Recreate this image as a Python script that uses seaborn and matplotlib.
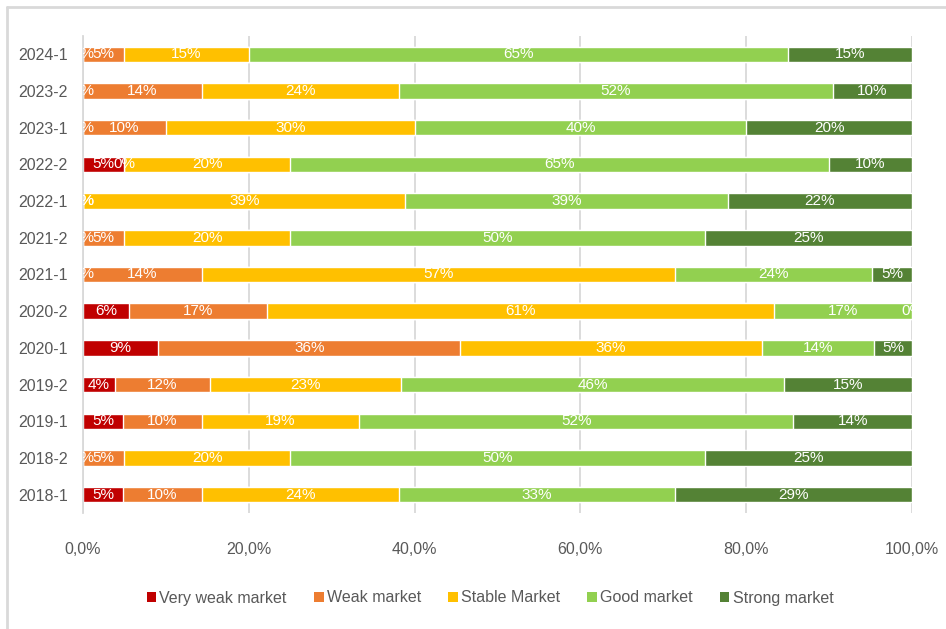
import numpy as np
import pandas as pd
import matplotlib.pyplot as plt
import seaborn as sns
from matplotlib.patches import Patch
from matplotlib.lines import Line2D
from matplotlib.ticker import FuncFormatter

# --- Data: share of answers per survey period (in %) ---
periods = ["2024-1", "2023-2", "2023-1", "2022-2", "2022-1", "2021-2", "2021-1",
           "2020-2", "2020-1", "2019-2", "2019-1", "2018-2", "2018-1"]
very_weak = [0, 0, 0, 5, 0, 0, 0, 5.5, 9.1, 3.8, 4.8, 0, 4.8]
weak = [5, 14.3, 10, 0, 0, 5, 14.3, 16.7, 36.4, 11.5, 9.5, 5, 9.5]
stable = [15, 23.8, 30, 20, 38.9, 20, 57.1, 61.1, 36.4, 23.1, 19.0, 20, 23.8]
good = [65, 52.4, 40, 65, 38.9, 50, 23.8, 16.7, 13.5, 46.2, 52.4, 50, 33.3]
strong = [15, 9.5, 20, 10, 22.2, 25, 4.8, 0, 4.6, 15.4, 14.3, 25, 28.6]

series_names = ["Very weak market", "Weak market", "Stable Market", "Good market", "Strong market"]
colors = ["#C00000", "#ED7D31", "#FFC000", "#92D050", "#548235"]

# --- Style ---
sns.set_style("white")
plt.rcParams['font.family'] = ['Liberation Sans', 'DejaVu Sans']
grey = "#595959"

df = pd.DataFrame({"Period": periods})
values = [very_weak, weak, stable, good, strong]
for name, vals in zip(series_names, values):
    df[name] = vals

# cumulative sums, drawn from the longest to shortest so the stack shows
cum = df[series_names].cumsum(axis=1)
for name in series_names:
    df["cum " + name] = cum[name]

fig = plt.figure(figsize=(9.46, 6.29), dpi=100)
ax = fig.add_axes([83 / 946, 1 - 513 / 629, (912 - 83) / 946, (513 - 36) / 629])

for name, col in reversed(list(zip(series_names, colors))):
    sns.barplot(data=df, x="cum " + name, y="Period", order=periods, color=col,
                saturation=1, width=0.42, errorbar=None, orient="h", ax=ax)

# --- Segment labels ---
for i, p in enumerate(periods):
    left = 0
    for name in series_names:
        v = df.loc[i, name]
        ax.text(left + v / 2, i, f"{v:.0f}%", ha="center", va="center",
                color="white", fontsize=11, clip_on=True)
        left += v

# --- Axes cosmetics ---
ax.set_xlim(0, 100)
ax.set_ylim(len(periods) - 0.5, -0.5)
ax.set_xticks(np.arange(0, 101, 20))
ax.xaxis.set_major_formatter(FuncFormatter(lambda x, _: f"{x:.1f}%".replace(".", ",")))
ax.xaxis.grid(True, color="#D9D9D9", lw=1.3)
ax.set_axisbelow(True)
ax.set_xlabel("")
ax.set_ylabel("")
for s in ["top", "right", "bottom"]:
    ax.spines[s].set_visible(False)
ax.spines["left"].set_color("#D9D9D9")
ax.spines["left"].set_linewidth(1.3)
ax.tick_params(axis="x", length=4, color="#D9D9D9", width=1.3, pad=17,
               labelsize=11.5, labelcolor=grey)
ax.tick_params(axis="y", length=0, pad=11, labelsize=11.5, labelcolor=grey)

# --- Legend ---
handles = [Patch(facecolor=c, edgecolor="none") for c in colors]
fig.legend(handles, series_names, loc="center", bbox_to_anchor=(0.518, 1 - 598 / 629),
           ncol=5, frameon=False, fontsize=11.5, labelcolor=grey,
           handlelength=0.6, handleheight=0.6, handletextpad=0.2, columnspacing=1.7)

# --- Chart area border (top and left visible) ---
fig.add_artist(Line2D([6.5 / 946, 6.5 / 946], [0, 1 - 6.5 / 629],
                      transform=fig.transFigure, color="#D9D9D9", lw=2))
fig.add_artist(Line2D([6.5 / 946, 1], [1 - 6.5 / 629, 1 - 6.5 / 629],
                      transform=fig.transFigure, color="#D9D9D9", lw=2))

fig.savefig("out.png", dpi=100)
